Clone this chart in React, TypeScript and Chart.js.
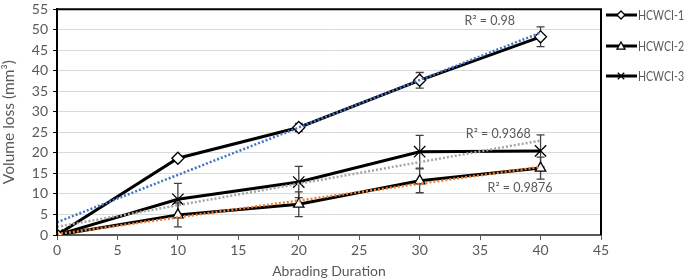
import React, { useEffect, useRef } from "react";
import { Chart, registerables } from "chart.js";

Chart.register(...registerables);

const durations = [0, 10, 20, 30, 40];
const hcwci1 = [0, 18.7, 26.2, 37.7, 48.3];
const hcwci2 = [0, 4.9, 7.5, 13.2, 16.3];
const hcwci3 = [0, 8.7, 12.9, 20.3, 20.5];
const err1 = [0, 0.5, 1.0, 1.9, 2.4];
const err2 = [0, 2.9, 3.0, 2.9, 2.7];
const err3 = [0, 3.9, 3.8, 4.0, 3.9];
const trendX = [0, 40];
const trend1 = [3.1, 49.3];
const trend2 = [0.2, 16.6];
const trend3 = [2.0, 23.0];
const seriesNames = ["HCWCI-1", "HCWCI-2", "HCWCI-3"];
const r2Labels = [
  { text: "R² = 0.98", x: 35.8, y: 52.2 },
  { text: "R² = 0.9368", x: 36.5, y: 24.6 },
  { text: "R² = 0.9876", x: 38.3, y: 11.5 },
];

const FONT = "Lato, 'Open Sans', sans-serif";
const GRAY_TEXT = "#595959";

const pts = (ys: number[]) => durations.map((x, i) => ({ x, y: ys[i] }));
const tpts = (ys: number[]) => trendX.map((x, i) => ({ x, y: ys[i] }));

const errorBars = {
  id: "errorBars",
  beforeDatasetsDraw(chart: any) {
    const ctx = chart.ctx;
    const xs = chart.scales.x;
    const ys = chart.scales.y;
    const sets = [
      [hcwci1, err1],
      [hcwci2, err2],
      [hcwci3, err3],
    ];
    ctx.save();
    ctx.strokeStyle = "#404040";
    ctx.lineWidth = 1.3;
    sets.forEach(([vals, errs]) => {
      durations.forEach((d, i) => {
        if (!errs[i]) return;
        const px = xs.getPixelForValue(d);
        const top = ys.getPixelForValue(vals[i] + errs[i]);
        const bot = ys.getPixelForValue(vals[i] - errs[i]);
        ctx.beginPath();
        ctx.moveTo(px, top);
        ctx.lineTo(px, bot);
        ctx.moveTo(px - 4, top);
        ctx.lineTo(px + 4, top);
        ctx.moveTo(px - 4, bot);
        ctx.lineTo(px + 4, bot);
        ctx.stroke();
      });
    });
    ctx.restore();
  },
};

function drawMarker(ctx: any, style: string, x: number, y: number, r: number) {
  ctx.beginPath();
  if (style === "rectRot") {
    ctx.moveTo(x, y - r);
    ctx.lineTo(x + r, y);
    ctx.lineTo(x, y + r);
    ctx.lineTo(x - r, y);
    ctx.closePath();
    ctx.fill();
    ctx.stroke();
  } else if (style === "triangle") {
    ctx.moveTo(x, y - r);
    ctx.lineTo(x + r, y + r * 0.8);
    ctx.lineTo(x - r, y + r * 0.8);
    ctx.closePath();
    ctx.fill();
    ctx.stroke();
  } else {
    ctx.moveTo(x - r * 0.8, y - r * 0.8);
    ctx.lineTo(x + r * 0.8, y + r * 0.8);
    ctx.moveTo(x + r * 0.8, y - r * 0.8);
    ctx.lineTo(x - r * 0.8, y + r * 0.8);
    ctx.stroke();
  }
}

const extras = {
  id: "extras",
  afterDraw(chart: any) {
    const ctx = chart.ctx;
    const a = chart.chartArea;
    const xs = chart.scales.x;
    const ys = chart.scales.y;
    ctx.save();
    ctx.strokeStyle = "#000";
    ctx.lineWidth = 2;
    ctx.beginPath();
    ctx.moveTo(a.left, a.bottom);
    ctx.lineTo(a.left, a.top);
    ctx.lineTo(a.right, a.top);
    ctx.lineTo(a.right, a.bottom);
    ctx.stroke();
    ctx.fillStyle = GRAY_TEXT;
    ctx.font = `12.5px ${FONT}`;
    ctx.textAlign = "center";
    ctx.textBaseline = "middle";
    r2Labels.forEach((l) => {
      ctx.fillText(l.text, xs.getPixelForValue(l.x), ys.getPixelForValue(l.y));
    });
    const styles = ["rectRot", "triangle", "crossRot"];
    const ly = [15, 46, 76];
    ctx.font = `13px ${FONT}`;
    const w = ctx.measureText(seriesNames[0]).width || 46;
    const sx = Math.min(1, 46 / w);
    seriesNames.forEach((name, i) => {
      const y = ly[i];
      ctx.strokeStyle = "#000";
      ctx.lineWidth = 3;
      ctx.beginPath();
      ctx.moveTo(606, y);
      ctx.lineTo(637, y);
      ctx.stroke();
      ctx.fillStyle = "#fff";
      ctx.lineWidth = 1.3;
      drawMarker(ctx, styles[i], 621, y, 4);
      ctx.fillStyle = GRAY_TEXT;
      ctx.textAlign = "left";
      ctx.save();
      ctx.translate(638, y + 1);
      ctx.scale(sx, 1);
      ctx.fillText(name, 0, 0);
      ctx.restore();
    });
    ctx.restore();
  },
};

export default function App() {
  const ref = useRef<HTMLCanvasElement>(null);
  useEffect(() => {
    document.body.style.margin = "0";
    document.body.style.overflow = "hidden";
    const seriesDs = (label: string, data: number[], style: string, radius: number) => ({
      label,
      data: pts(data),
      borderColor: "#000",
      backgroundColor: "#fff",
      borderWidth: 3,
      pointStyle: style,
      pointRadius: radius,
      pointBorderWidth: 1.3,
      pointBorderColor: "#000",
      pointBackgroundColor: "#fff",
      tension: 0,
      order: 2,
    });
    const trendDs = (data: number[], color: string) => ({
      label: "trend",
      data: tpts(data),
      borderColor: color,
      borderWidth: 2.5,
      borderDash: [2, 2],
      pointRadius: 0,
      tension: 0,
      order: 1,
    });
    const chart = new Chart(ref.current!, {
      type: "line",
      data: {
        datasets: [
          trendDs(trend1, "#4472C4"),
          trendDs(trend2, "#ED7D31"),
          trendDs(trend3, "#A5A5A5"),
          seriesDs(seriesNames[0], hcwci1, "rectRot", 6),
          seriesDs(seriesNames[1], hcwci2, "triangle", 6),
          seriesDs(seriesNames[2], hcwci3, "crossRot", 8),
        ] as any,
      },
      options: {
        animation: false,
        responsive: false,
        layout: { padding: { left: 0, right: 84, top: 5, bottom: 0 } },
        plugins: { legend: { display: false }, tooltip: { enabled: false } },
        scales: {
          x: {
            type: "linear",
            min: 0,
            max: 45,
            ticks: { stepSize: 5, color: GRAY_TEXT, font: { family: FONT, size: 14 }, padding: 2 },
            grid: {
              display: true,
              drawOnChartArea: false,
              drawTicks: true,
              tickLength: 5,
              color: "#595959",
            },
            border: { color: "#595959", width: 2 },
            title: {
              display: true,
              text: "Abrading Duration",
              color: GRAY_TEXT,
              font: { family: FONT, size: 14 },
              padding: { top: 4, bottom: 0 },
            },
            afterFit: (s: any) => {
              s.height = 45;
            },
          },
          y: {
            min: 0,
            max: 55,
            ticks: { stepSize: 5, color: GRAY_TEXT, font: { family: FONT, size: 14 }, padding: 5 },
            grid: { color: "#d9d9d9", lineWidth: 1, drawTicks: true, tickLength: 4, tickColor: "#000" },
            border: { color: "#000", width: 2 },
            title: {
              display: true,
              text: "Volume loss (mm³)",
              color: GRAY_TEXT,
              font: { family: FONT, size: 15.5 },
              padding: { top: 0, bottom: 2 },
            },
            afterFit: (s: any) => {
              s.width = 57;
              s.paddingTop = 0;
              s.paddingBottom = 0;
            },
          },
        },
      } as any,
      plugins: [errorBars, extras],
    });
    return () => chart.destroy();
  }, []);
  return (
    <div style={{ width: 685, height: 280 }}>
      <canvas ref={ref} width={685} height={280} style={{ display: "block" }} />
    </div>
  );
}
